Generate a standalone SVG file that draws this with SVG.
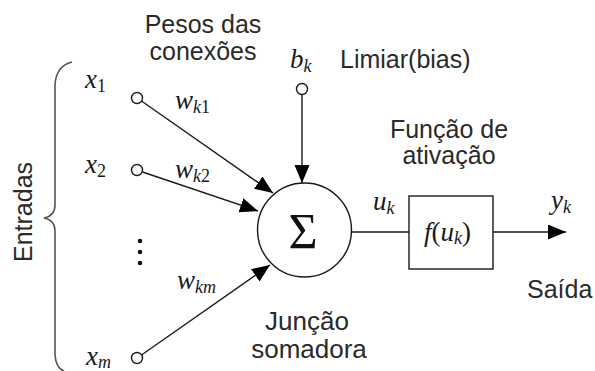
<svg xmlns="http://www.w3.org/2000/svg" width="595" height="371" viewBox="0 0 595 371">
<style>
.lbl{font-family:"Liberation Sans",Arial,sans-serif;font-size:25px;fill:#2a2a2a}
.big{font-size:26px}
.m{font-family:"Liberation Serif","Times New Roman",serif;font-style:italic;font-size:27px;fill:#1a1a1a}
.s{font-size:18px}
.up{font-style:normal}
.ln{stroke:#1a1a1a;stroke-width:1.4;fill:none}
.pin{stroke:#1a1a1a;stroke-width:1.4;fill:#fff}
</style>
<defs>
<marker id="ah" markerUnits="userSpaceOnUse" markerWidth="19" markerHeight="16" refX="18" refY="7.5" orient="auto">
<path d="M0,0 L18,7.5 L0,15 z" fill="#000"/>
</marker>
</defs>
<rect width="595" height="371" fill="#fff"/>

<g id="entradas">
<path d="M72,62 Q56,66 55,85 L55,205 Q55,216 44,218 Q55,220 55,231 L55,355 Q56,368 64,371" stroke="#555" stroke-width="1.6" fill="none"/>
<text class="lbl" transform="translate(32,212) rotate(-90)" text-anchor="middle">Entradas</text>
</g>

<g id="pesos-label">
<text class="lbl" x="203" y="33" text-anchor="middle">Pesos das</text>
<text class="lbl" x="203" y="60" text-anchor="middle">conexões</text>
</g>

<g id="x1">
<text class="m" x="85" y="88">x<tspan class="s up" dy="4">1</tspan></text>
<circle class="pin" cx="137" cy="98" r="5.5"/>
<text class="m" x="175" y="109">w<tspan class="s" dy="4">k</tspan><tspan class="s up">1</tspan></text>
</g>

<g id="x2">
<text class="m" x="85" y="173">x<tspan class="s up" dy="4">2</tspan></text>
<circle class="pin" cx="137" cy="170" r="5.5"/>
<text class="m" x="175" y="178">w<tspan class="s" dy="4">k</tspan><tspan class="s up">2</tspan></text>
</g>

<g id="dots">
<circle cx="140" cy="241" r="2.3" fill="#111"/>
<circle cx="140" cy="252" r="2.3" fill="#111"/>
<circle cx="140" cy="263" r="2.3" fill="#111"/>
</g>

<g id="xm">
<text class="m" x="86" y="365">x<tspan class="s" dy="3">m</tspan></text>
<circle class="pin" cx="137" cy="358" r="5.5"/>
<text class="m" x="177" y="289">w<tspan class="s" dy="4">km</tspan></text>
</g>

<g id="bias">
<text class="m" x="290" y="68">b<tspan class="s" dy="4">k</tspan></text>
<circle class="pin" cx="302" cy="89" r="5.5"/>
<text class="lbl" x="340" y="68">Limiar(bias)</text>
</g>

<g id="somador">
<circle class="ln" cx="304.5" cy="230" r="47"/>
<text x="303" y="248" text-anchor="middle" font-family="'Liberation Serif','Times New Roman',serif" font-size="50" fill="#111">Σ</text>
<text class="lbl big" x="307" y="330" text-anchor="middle">Junção</text>
<text class="lbl big" x="309" y="358" text-anchor="middle">somadora</text>
</g>

<g id="ativacao">
<text class="lbl" x="449" y="138" text-anchor="middle">Função de</text>
<text class="lbl" x="449" y="164" text-anchor="middle">ativação</text>
<rect class="ln" x="409" y="196" width="84" height="73"/>
<text class="m" x="424" y="241" font-size="22">f<tspan class="up">(</tspan>u<tspan class="s" dy="3">k</tspan><tspan class="up" dy="-3">)</tspan></text>
</g>

<g id="uk">
<text class="m" x="373" y="210">u<tspan class="s" dy="4">k</tspan></text>
</g>

<g id="saida">
<text class="m" x="551" y="209">y<tspan class="s" dy="4">k</tspan></text>
<text class="lbl" x="527" y="298">Saída</text>
</g>

<g id="connectors">
<line class="ln" x1="141.5" y1="101" x2="273" y2="193" marker-end="url(#ah)"/>
<line class="ln" x1="142.5" y1="172" x2="258" y2="211" marker-end="url(#ah)"/>
<line class="ln" x1="141.5" y1="355" x2="270" y2="265" marker-end="url(#ah)"/>
<line class="ln" x1="302" y1="94.5" x2="302" y2="183" marker-end="url(#ah)"/>
<line class="ln" x1="351.5" y1="232" x2="409" y2="232"/>
<line class="ln" x1="493" y1="232" x2="566" y2="232" marker-end="url(#ah)"/>
</g>
</svg>
